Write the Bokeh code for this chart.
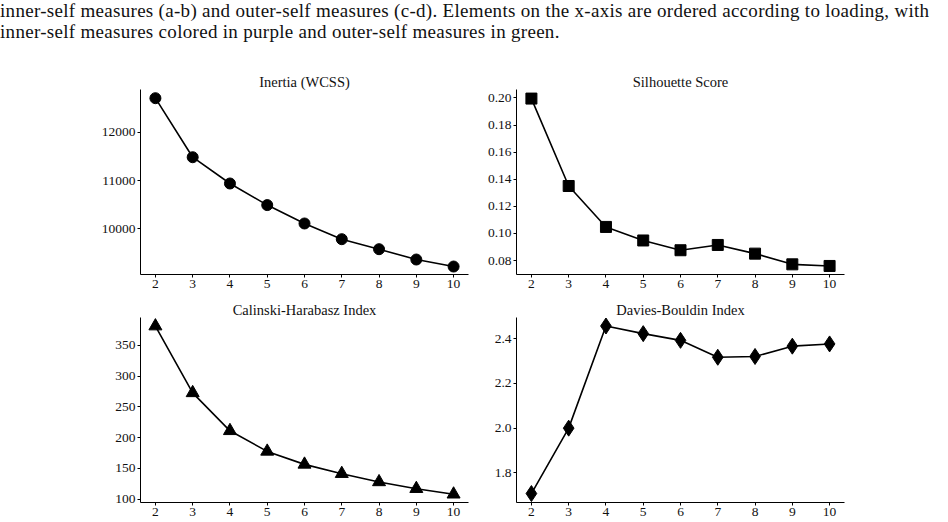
from bokeh.plotting import figure
from bokeh.layouts import column, row
from bokeh.models import Div, Range1d, FixedTicker, PrintfTickFormatter
from bokeh.embed import file_html
from bokeh.resources import INLINE

# ---- data ----
k_values = [2, 3, 4, 5, 6, 7, 8, 9, 10]
inertia = [12704, 11482, 10938, 10491, 10110, 9785, 9578, 9364, 9219]
silhouette = [0.1995, 0.1350, 0.1048, 0.0948, 0.0876, 0.0915, 0.0851, 0.0772, 0.0760]
calinski = [381, 272.6, 211, 177.6, 156.5, 141.4, 128, 117, 108]
davies = [1.708, 2.000, 2.456, 2.422, 2.392, 2.3165, 2.320, 2.366, 2.376]

inertia_ticks = [10000, 11000, 12000]
silhouette_ticks = [0.08, 0.10, 0.12, 0.14, 0.16, 0.18, 0.20]
calinski_ticks = [100, 150, 200, 250, 300, 350]
davies_ticks = [1.8, 2.0, 2.2, 2.4]

caption_lines = [
    "inner-self measures (a-b) and outer-self measures (c-d). Elements on the x-axis are ordered according to loading, with",
    "inner-self measures colored in purple and outer-self measures in green.",
]

FONT = "Liberation Serif"


def make_panel(title, yvals, yrange, yticks, fmt, marker, msize,
               bl, br, bt, bb):
    p = figure(frame_width=328, frame_height=185,
               min_border_left=bl, min_border_right=br,
               min_border_top=bt, min_border_bottom=bb,
               x_range=Range1d(1.6, 10.4), y_range=Range1d(*yrange),
               output_backend="svg", toolbar_location=None, title=title)
    p.title.align = "center"
    p.title.text_font = FONT
    p.title.text_font_style = "normal"
    p.title.text_font_size = "14.5px"
    p.title.text_color = "#111111"
    p.title.standoff = 0
    p.outline_line_color = None
    p.grid.visible = False
    p.background_fill_color = "white"
    p.border_fill_color = "white"
    for ax in (p.xaxis[0], p.yaxis[0]):
        ax.axis_line_color = "black"
        ax.axis_line_width = 1
        ax.major_tick_out = 3
        ax.major_tick_in = 0
        ax.minor_tick_out = 0
        ax.minor_tick_in = 0
        ax.major_tick_line_color = "black"
        ax.major_label_text_font = FONT
        ax.major_label_text_font_size = "13.5px"
        ax.major_label_text_color = "#111111"
        ax.major_label_standoff = 2
    p.xaxis[0].ticker = FixedTicker(ticks=k_values)
    p.yaxis[0].ticker = FixedTicker(ticks=yticks)
    p.yaxis[0].formatter = PrintfTickFormatter(format=fmt)
    p.line(k_values, yvals, line_color="black", line_width=1.6)
    p.scatter(k_values, yvals, marker=marker, size=msize,
              fill_color="black", line_color="black")
    return p


p1 = make_panel("Inertia (WCSS)", inertia, (9054, 12884), inertia_ticks, "%d",
                "circle", 11, 140, 6, 47, 16)
p2 = make_panel("Silhouette Score", silhouette, (0.0697, 0.2062), silhouette_ticks, "%.2f",
                "square", 11, 42, 104, 47, 16)
p3 = make_panel("Calinski-Harabasz Index", calinski, (94.6, 395), calinski_ticks, "%d",
                "triangle", 13, 140, 6, 27, 20)
p4 = make_panel("Davies-Bouldin Index", davies, (1.668, 2.494), davies_ticks, "%.1f",
                "diamond", 16, 42, 104, 27, 20)

caption = Div(text="<br>".join(caption_lines), width=948, height=42, margin=0,
              styles={"font-family": FONT, "font-size": "19px", "line-height": "21px",
                      "letter-spacing": "0.3px", "white-space": "nowrap",
                      "color": "#111111", "overflow": "visible"})

layout = column(caption, row(p1, p2, spacing=0), row(p3, p4, spacing=0), spacing=0)

open("out.html", "w").write(file_html(layout, INLINE))
